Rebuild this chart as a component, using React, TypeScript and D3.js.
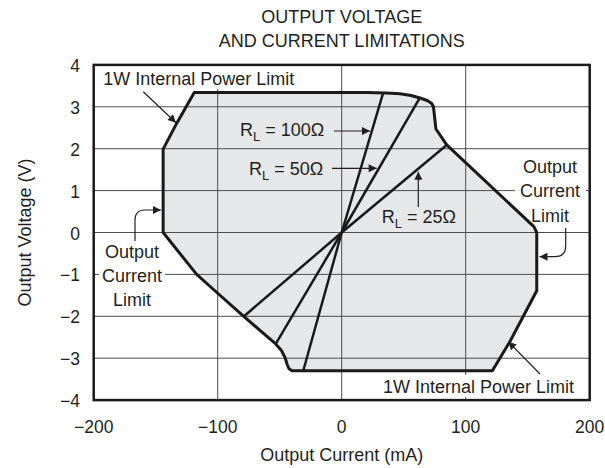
import React from "react";
import * as d3 from "d3";

// ---- data ----
const xTicks = [-200, -100, 0, 100, 200];
const yTicks = [-4, -3, -2, -1, 0, 1, 2, 3, 4];

// safe operating boundary (output current mA, output voltage V)
const boundaryCurrent = [
  -118.9, -133, -144, -144, -117, -100, -79, -53.2, -48.5, -45.5, -44, -42.5, -40,
  121.5, 135.7, 157.3, 157.3, 155, 84.7, 76, 74, 72.6, 69, 63.1, 56, 47, 36, 20,
];
const boundaryVoltage = [
  3.34, 2.61, 1.99, 0, -1.0, -1.45, -2.0, -2.66, -2.82, -3.0, -3.15, -3.25, -3.3,
  -3.3, -2.6, -1.39, 0.0, 0.14, 2.09, 2.47, 3.0, 3.08, 3.15, 3.21, 3.27, 3.31, 3.33, 3.34,
];

// load lines
const loadNames = ["100", "50", "25"];
const loadPosCurrent = [33.5, 63.1, 84.7];
const loadPosVoltage = [3.34, 3.22, 2.09];
const loadNegCurrent = [-31, -53.2, -78.8];
const loadNegVoltage = [-3.3, -2.66, -2.0];

const W = 605;
const H = 468;
const FONT = "'Liberation Sans', Arial, Helvetica, sans-serif";
const INK = "#231f20";

export default function App() {
  const x = d3.scaleLinear().domain([-200, 200]).range([93.7, 589.7]);
  const y = d3.scaleLinear().domain([-4, 4]).range([400.1, 64.9]);

  const pts: [number, number][] = boundaryCurrent.map((c, i) => [c, boundaryVoltage[i]]);
  const line = d3
    .line<[number, number]>()
    .x((d) => x(d[0]))
    .y((d) => y(d[1]));
  const boundaryPath = line(pts) + "Z";

  const loads = loadNames.map((n, i) =>
    line([
      [loadNegCurrent[i], loadNegVoltage[i]],
      [0, 0],
      [loadPosCurrent[i], loadPosVoltage[i]],
    ])
  );

  const x0 = x(-200), x1 = x(200), y0 = y(4), y1 = y(-4);

  const rl = (label: string, props: any) => (
    <text {...props} fontSize={18} fill={INK} fontFamily={FONT}>
      R
      <tspan fontSize={13} dy={5}>L</tspan>
      <tspan dy={-5}>{` = ${label}\u03A9`}</tspan>
    </text>
  );

  return (
    <svg
      width={W}
      height={H}
      style={{ position: "absolute", left: 0, top: 0, background: "#fff" }}
      fontFamily={FONT}
    >
      <defs>
        <marker
          id="ah"
          viewBox="0 0 10 10"
          refX={10}
          refY={5}
          markerWidth={10}
          markerHeight={8}
          markerUnits="userSpaceOnUse"
          orient="auto"
        >
          <path d="M0,0 L10,5 L0,10 Z" fill={INK} />
        </marker>
      </defs>

      {/* title */}
      <text x={341.7} y={22.7} textAnchor="middle" fontSize={18} fill={INK}>
        OUTPUT VOLTAGE
      </text>
      <text x={341.7} y={46.7} textAnchor="middle" fontSize={18} fill={INK}>
        AND CURRENT LIMITATIONS
      </text>

      {/* fill */}
      <path d={boundaryPath} fill="#e6e7e8" stroke="none" />

      {/* grid */}
      {xTicks.map((t) => (
        <line key={"gx" + t} x1={x(t)} x2={x(t)} y1={y0} y2={y1} stroke="#4d4d4d" strokeWidth={1} />
      ))}
      {yTicks.map((t) => (
        <line key={"gy" + t} x1={x0} x2={x1} y1={y(t)} y2={y(t)} stroke="#4d4d4d" strokeWidth={1} />
      ))}

      {/* white boxes behind annotations */}
      <rect x={100} y={66} width={202} height={23} fill="#fff" />
      <rect x={99} y={267} width={66} height={17} fill="#fff" />
      <rect x={515} y={183} width={71} height={17} fill="#fff" />
      <rect x={380} y={375} width={200} height={22} fill="#fff" />

      {/* boundary and load lines */}
      <path d={boundaryPath} fill="none" stroke="#1a1a1a" strokeWidth={3} strokeLinejoin="round" />
      {loads.map((d, i) => (
        <path key={"ld" + i} d={d as string} fill="none" stroke="#1a1a1a" strokeWidth={2.5} />
      ))}

      {/* frame */}
      <rect x={x0} y={y0} width={x1 - x0} height={y1 - y0} fill="none" stroke="#1a1a1a" strokeWidth={2.5} />

      {/* tick labels */}
      {xTicks.map((t) => (
        <text key={"tx" + t} x={x(t)} y={433} textAnchor="middle" fontSize={17.5} fill={INK}>
          {t < 0 ? "\u2212" + Math.abs(t) : String(t)}
        </text>
      ))}
      {yTicks.map((t) => (
        <text key={"ty" + t} x={80} y={y(t) + 7} textAnchor="end" fontSize={17.5} fill={INK}>
          {t < 0 ? "\u2212" + Math.abs(t) : String(t)}
        </text>
      ))}

      {/* axis titles */}
      <text x={341.7} y={460.5} textAnchor="middle" fontSize={18} fill={INK}>
        Output Current (mA)
      </text>
      <text
        transform={`translate(31,${y(0)}) rotate(-90)`}
        textAnchor="middle"
        fontSize={18}
        fill={INK}
      >
        Output Voltage (V)
      </text>

      {/* annotations */}
      <text x={103.3} y={85.3} fontSize={18} fill={INK}>1W Internal Power Limit</text>
      <line x1={143.3} y1={91.7} x2={176} y2={122.7} stroke={INK} strokeWidth={1.2} markerEnd="url(#ah)" />

      <text x={132} y={258} textAnchor="middle" fontSize={18} fill={INK}>Output</text>
      <text x={132} y={282} textAnchor="middle" fontSize={18} fill={INK}>Current</text>
      <text x={132} y={306} textAnchor="middle" fontSize={18} fill={INK}>Limit</text>
      <path d="M135,241 L135,220 Q135,210 145,210 L161,210" fill="none" stroke={INK} strokeWidth={1.2} markerEnd="url(#ah)" />

      <text x={550} y={173.3} textAnchor="middle" fontSize={18} fill={INK}>Output</text>
      <text x={550} y={197} textAnchor="middle" fontSize={18} fill={INK}>Current</text>
      <text x={550} y={221.5} textAnchor="middle" fontSize={18} fill={INK}>Limit</text>
      <path d="M565.7,228 L565.7,246 Q565.7,256.7 555,256.7 L539.5,256.7" fill="none" stroke={INK} strokeWidth={1.2} markerEnd="url(#ah)" />

      <text x={383} y={393.3} fontSize={18} fill={INK}>1W Internal Power Limit</text>
      <line x1={540} y1={374} x2={508.3} y2={341.7} stroke={INK} strokeWidth={1.2} markerEnd="url(#ah)" />

      {rl("100", { x: 324.3, y: 136, textAnchor: "end" })}
      <line x1={334} y1={131} x2={370} y2={131} stroke={INK} strokeWidth={1.2} markerEnd="url(#ah)" />
      {rl("50", { x: 323.3, y: 175, textAnchor: "end" })}
      <line x1={332} y1={168.3} x2={376.7} y2={168.3} stroke={INK} strokeWidth={1.2} markerEnd="url(#ah)" />
      {rl("25", { x: 381.7, y: 223.3 })}
      <line x1={418.3} y1={207} x2={418.3} y2={171.7} stroke={INK} strokeWidth={1.2} markerEnd="url(#ah)" />
    </svg>
  );
}
